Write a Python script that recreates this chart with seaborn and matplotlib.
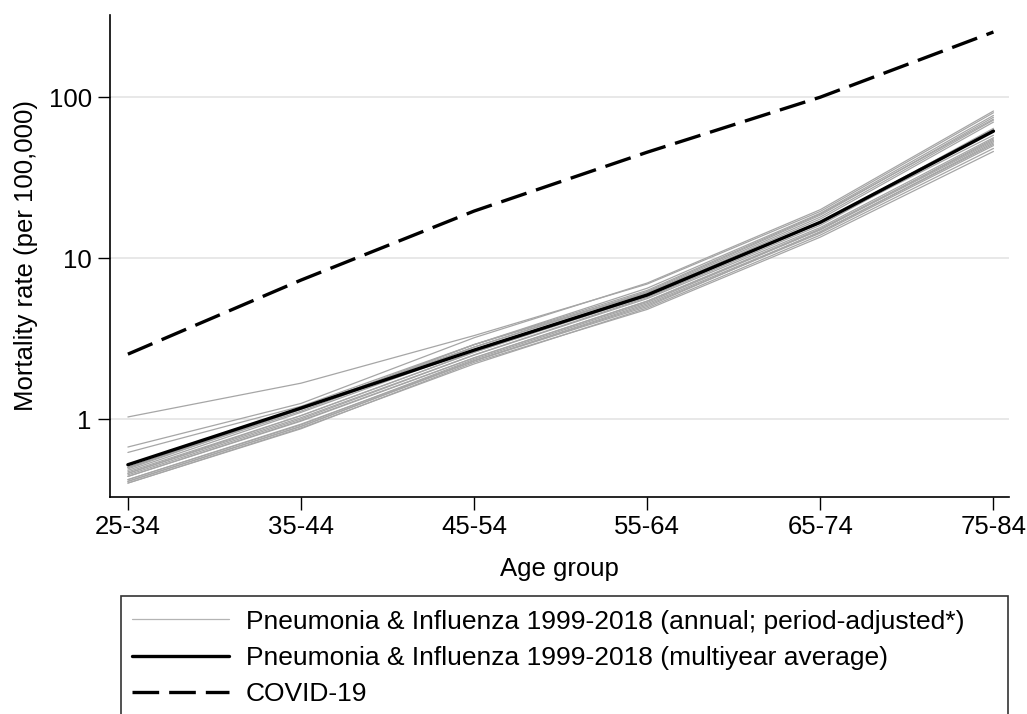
#!/usr/bin/env python3

import seaborn as sns
import pandas as pd
import matplotlib.pyplot as plt
from matplotlib.lines import Line2D
from matplotlib.patches import Rectangle

ages = ['25-34', '35-44', '45-54', '55-64', '65-74', '75-84']
years = list(range(1999, 2019))

# annual pneumonia & influenza rates (per 100,000), one row per year
annual = [
    [1.03, 1.67, 3.30, 6.9, 19.5, 80],
    [0.67, 1.25, 3.20, 7.0, 20.0, 82],
    [0.62, 1.20, 2.90, 6.5, 19.0, 77],
    [0.50, 1.18, 2.80, 6.2, 18.5, 75],
    [0.49, 1.15, 2.90, 6.3, 18.8, 73],
    [0.48, 1.10, 2.70, 6.0, 17.5, 70],
    [0.50, 1.12, 2.80, 6.1, 18.0, 72],
    [0.47, 1.05, 2.60, 5.8, 16.5, 64],
    [0.46, 1.02, 2.50, 5.7, 16.0, 62],
    [0.46, 1.05, 2.60, 5.9, 16.8, 63],
    [0.50, 1.15, 2.90, 6.1, 16.5, 58],
    [0.44, 0.98, 2.40, 5.4, 15.0, 55],
    [0.45, 1.00, 2.50, 5.6, 15.5, 56],
    [0.42, 0.93, 2.30, 5.2, 14.5, 52],
    [0.44, 0.97, 2.40, 5.4, 15.2, 54],
    [0.41, 0.90, 2.30, 5.1, 14.3, 50],
    [0.42, 0.92, 2.35, 5.3, 15.0, 53],
    [0.40, 0.88, 2.20, 4.9, 13.9, 48],
    [0.41, 0.90, 2.30, 5.0, 14.6, 51],
    [0.40, 0.87, 2.25, 4.8, 13.5, 46],
]
multiyear = [0.52, 1.17, 2.68, 5.9, 16.7, 61.5]
covid = [2.53, 7.3, 19.6, 45.5, 100, 254]

# long-form table for the annual lines
rows = []
for y, vals in zip(years, annual):
    for i, v in enumerate(vals):
        rows.append({'year': y, 'x': i, 'rate': v})
df = pd.DataFrame(rows)
avg = pd.DataFrame({'x': range(len(ages)), 'rate': multiyear})
cov = pd.DataFrame({'x': range(len(ages)), 'rate': covid})

sns.set_style('white')
plt.rcParams['font.family'] = ['Liberation Sans', 'DejaVu Sans']
plt.rcParams['text.color'] = 'black'
plt.rcParams['axes.labelcolor'] = 'black'
plt.rcParams['xtick.color'] = 'black'
plt.rcParams['ytick.color'] = 'black'

dash = (0, (8, 3))

fig = plt.figure(figsize=(10.27, 7.14), dpi=100)
ax = fig.add_axes([0.107, 0.304, 0.8755, 0.675])

for y in [1, 10, 100]:
    ax.axhline(y, color='#e6e6e6', lw=1.3, zorder=0)

sns.lineplot(data=df, x='x', y='rate', units='year', estimator=None,
             color='#a6a6a6', lw=0.9, ax=ax, legend=False)
sns.lineplot(data=avg, x='x', y='rate', color='black', lw=2.4, ax=ax)
sns.lineplot(data=cov, x='x', y='rate', color='black', lw=2.4, ax=ax,
             dashes=False, linestyle=dash)

ax.set_yscale('log')
ax.set_ylim(0.328, 324)
ax.set_xlim(-0.104, 5.09)
ax.set_xticks(range(len(ages)))
ax.set_xticklabels(ages)
ax.set_yticks([1, 10, 100])
ax.set_yticklabels(['1', '10', '100'])
ax.minorticks_off()
ax.tick_params(axis='both', direction='out', length=9, width=1, labelsize=18.5,
               color='black', labelcolor='black', left=True, bottom=True, pad=4)
ax.set_xlabel('Age group', fontsize=18.5, labelpad=13)
ax.set_ylabel('Mortality rate (per 100,000)', fontsize=18.5, labelpad=8)
for s in ['top', 'right']:
    ax.spines[s].set_visible(False)
for s in ['left', 'bottom']:
    ax.spines[s].set_color('black')
    ax.spines[s].set_linewidth(1.2)

handles = [
    Line2D([], [], color='#b4b4b4', lw=0.9),
    Line2D([], [], color='black', lw=2.4),
    Line2D([], [], color='black', lw=2.4, linestyle=dash),
]
labels = [
    'Pneumonia & Influenza 1999-2018 (annual; period-adjusted*)',
    'Pneumonia & Influenza 1999-2018 (multiyear average)',
    'COVID-19',
]
fig.add_artist(Rectangle((121 / 1027, -0.05), 887 / 1027, 1 - 596 / 714 + 0.05,
                         transform=fig.transFigure, fill=False,
                         edgecolor='#333333', lw=1.2))
fig.legend(handles, labels, loc='upper left', frameon=False,
           bbox_to_anchor=(121 / 1027, 1 - 599 / 714), fontsize=19,
           handlelength=3.7, handletextpad=0.64, labelspacing=0.47,
           borderaxespad=0)

fig.savefig('out.png', dpi=100)
